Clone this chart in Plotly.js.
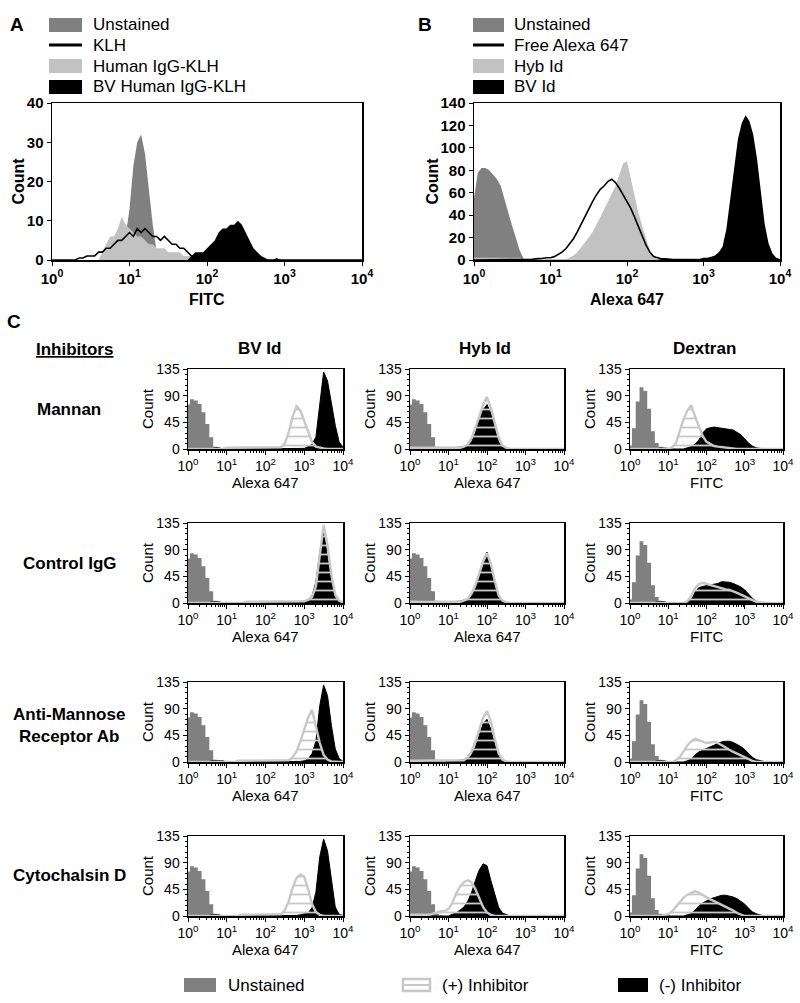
<!DOCTYPE html>
<html><head><meta charset="utf-8">
<script src="https://cdn.plot.ly/plotly-3.0.1.min.js"></script>
<style>html,body{margin:0;padding:0;background:#fff}#chart{width:800px;height:1003px}</style>
</head><body><div id="chart"></div>
<script>
// ---------- DATA ----------
// Panel A/B histogram bins: 0.05 decade steps from 10^0 to 10^4 (81 bins)
const A_UNSTAINED = [
0,0,0,0,0,0,0,0,0,0, 0,0,0,0,0,0,0,0,2,6, 13,24,30,32,27,18,9,2,0,0,
0,0,0,0,0,0,0,0,0,0, 0,0,0,0,0,0,0,0,0,0, 0,0,0,0,0,0,0,0,0,0,
0,0,0,0,0,0,0,0,0,0, 0,0,0,0,0,0,0,0,0,0, 0];
const A_KLH = [
0,0,0,0,0,0,0,0.5,0.5,1, 1,1,2,2,3,3,4,5,5,6, 7,6,8,7,8,7,6,6,5,6,
5,4,4,3,3,2,1,1,0.5,0, 0,0,0,0,0,0,0,0,0,0, 0,0,0,0,0,0,0,0,0,0,
0,0,0,0,0,0,0,0,0,0, 0,0,0,0,0,0,0,0,0,0, 0];
const A_HUMAN_IGG_KLH = [
0,0,0,0,0,0,0,0,0,0, 0,0,0,2,4,6,6,8,11,9, 8,7,6,6,5,4,4,3,3,3,
2,2,2,2,1,1,1,0,0,0, 0,0,0,0,0,0,0,0,0,0, 0,0,0,0,0,0,0,0,0,0,
0,0,0,0,0,0,0,0,0,0, 0,0,0,0,0,0,0,0,0,0, 0];
const A_BV_HUMAN_IGG_KLH = [
0,0,0,0,0,0,0,0,0,0, 0,0,0,0,0,0,0,0,0,0, 0,0,0,0,0,0,0,0,0,0,
0,0,0,0,0,0,1,2,2,2, 3,4,5,7,8,8,9,9,10,9, 7,5,3,2,1,0.5,0,0,0.5,0,
0,0,0,0,0,0,0,0,0,0, 0,0,0,0,0,0,0,0,0,0, 0];

const B_UNSTAINED = [
55,78,82,82,80,76,72,66,55,42, 30,20,8,1,0,0,0,0,0,0, 0,0,0,0,0,0,0,0,0,0,
0,0,0,0,0,0,0,0,0,0, 0,0,0,0,0,0,0,0,0,0, 0,0,0,0,0,0,0,0,0,0,
0,0,0,0,0,0,0,0,0,0, 0,0,0,0,0,0,0,0,0,0, 0];
const B_FREE_ALEXA = [
0,0,0,0,0,0,0,0,0,0, 0,0,0,0,0.5,0.5,1,1,1.5,2, 2,3,5,7,10,14,19,25,32,38,
45,52,58,63,66,70,72,69,64,58, 53,46,38,30,22,13,7,3,2,1, 1,0.5,0.5,0.5,0.5,0.5,0.5,0.5,0.5,0.5,
0.5,0,0,0,0,0,0,0,0,0, 0,0,0,0,0,0,0,0,0,0, 0];
const B_HYB_ID = [
2,2,2,2,2,2,2,2,2,2, 2,2,2,1,1,1,1,1,1,1, 1,1,1,1,1,2,4,7,11,15,
20,25,31,38,45,52,60,66,76,86, 88,72,56,42,30,18,8,3,1,0, 0,0,0,0,0,0,0,0,0,0,
0,0,0,0,0,0,0,0,0,0, 0,0,0,0,0,0,0,0,0,0, 0];
const B_BV_ID = [
0,0,0,0,0,0,0,0,0,0, 0,0,0,0,0,0,0,0,0,0, 0,0,0,0,0,0,0,0,0,0,
0,0,0,0,0,0,0,0,0,0, 0,0,0,0,0,0,0,0,0,1, 1,1,1,1,1,1,1,1,1,1,
2,2,3,4,7,12,28,55,85,108, 122,129,124,112,90,62,32,15,6,2, 1];

// Panel C histogram bins: 0.1 decade steps from 10^0 to 10^4 (41 bins)
const C_UNSTAINED_ALEXA = [75,84,82,76,62,42,20,4,1,0, 0,0,0,0,0,0,0,0,0,0, 0,0,0,0,0,0,0,0,0,0, 0,0,0,0,0,0,0,0,0,0, 0];
const C_UNSTAINED_FITC  = [6,35,80,104,98,68,30,10,4,2, 1,0,0,0,0,0,0,0,0,0, 0,0,0,0,0,0,0,0,0,0, 0,0,0,0,0,0,0,0,0,0, 0];

// Mannan
const MANNAN_BV_PLUS   = [0,0,0,0,0,0,0,0,0,0, 2,2,2,2,2,2,2,2,2,2, 2,2,2,2,3,10,28,55,72,65, 48,28,12,4,2,1,0,0,0,0, 0];
const MANNAN_BV_MINUS  = [0,0,0,0,0,0,0,2,2,0, 0,0,0,0,0,0,0,0,0,0, 0,0,0,0,0,1,1,1,1,1, 1,4,8,20,75,130,115,80,40,12, 3];
const MANNAN_HYB_PLUS  = [2,2,2,2,2,2,2,2,2,2, 2,2,2,2,4,8,18,35,55,75, 88,70,45,20,6,2,0,0,0,0, 0,0,0,0,0,0,0,0,0,0, 0];
const MANNAN_HYB_MINUS = [0,0,0,0,0,0,0,0,0,0, 2,2,3,3,4,6,12,28,48,66, 75,60,35,12,3,1,0,0,0,0, 0,0,0,0,0,0,0,0,0,0, 0];
const MANNAN_DEX_PLUS  = [0,0,0,0,0,0,0,0,0,0, 0,3,10,30,50,65,74,55,38,22, 12,8,5,4,3,2,1,0,0,0, 0,0,0,0,0,0,0,0,0,0, 0];
const MANNAN_DEX_MINUS = [0,0,0,0,0,0,0,0,2,2, 1,0,0,0,0,2,4,8,15,27, 34,36,37,36,35,35,34,32,28,24, 17,10,5,2,1,0,0,0,0,0, 0];
// Control IgG
const CTRL_BV_PLUS   = [0,0,0,0,0,0,0,0,0,0, 0,0,0,0,0,2,2,2,2,2, 2,2,2,2,2,2,2,2,2,2, 3,5,10,28,78,132,98,48,14,4, 1];
const CTRL_BV_MINUS  = [0,0,0,0,0,0,2,2,2,0, 0,0,0,0,0,0,0,1,1,1, 1,1,1,1,1,1,1,1,1,2, 3,6,12,35,85,120,80,35,9,2, 0];
const CTRL_HYB_PLUS  = [2,2,2,2,2,2,2,2,2,2, 2,2,2,2,4,7,16,30,50,70, 84,66,38,13,4,1,0,0,0,0, 0,0,0,0,0,0,0,0,0,0, 0];
const CTRL_HYB_MINUS = [0,0,3,3,3,3,3,0,0,0, 2,2,3,3,5,6,15,30,50,72, 86,62,32,10,3,1,0,0,0,0, 0,0,0,0,0,0,0,0,0,0, 0];
const CTRL_DEX_PLUS  = [0,0,0,0,0,0,0,0,0,0, 0,0,0,0,0,3,12,25,32,34, 32,30,28,27,25,23,22,20,17,14, 11,7,4,2,1,0,0,0,0,0, 0];
const CTRL_DEX_MINUS = [0,0,0,0,0,0,0,2,2,2, 0,0,0,0,0,2,5,18,26,28, 29,30,31,33,36,36,35,33,30,27, 22,15,8,3,1,0,0,0,0,0, 0];
// Anti-Mannose Receptor Ab
const AMR_BV_PLUS   = [0,0,0,0,0,0,0,0,0,0, 0,0,0,2,2,2,2,2,2,2, 2,2,2,2,2,2,3,8,18,35, 55,75,88,62,32,12,4,1,0,0, 0];
const AMR_BV_MINUS  = [0,0,0,0,0,0,2,2,2,2, 0,0,0,0,0,0,0,0,0,0, 0,0,0,0,0,0,0,0,1,1, 2,5,14,35,95,130,112,62,22,6, 1];
const AMR_HYB_PLUS  = [2,2,2,2,2,2,2,2,2,2, 2,2,2,2,3,8,18,35,55,75, 86,68,40,15,4,1,0,0,0,0, 0,0,0,0,0,0,0,0,0,0, 0];
const AMR_HYB_MINUS = [0,0,0,0,0,0,0,0,0,0, 2,2,2,3,4,5,12,25,45,65, 72,55,30,10,3,1,0,0,0,0, 0,0,0,0,0,0,0,0,0,0, 0];
const AMR_DEX_PLUS  = [0,0,0,0,0,0,0,0,0,0, 0,0,3,8,18,28,35,39,37,34, 32,33,34,32,28,24,20,17,14,11, 8,4,2,0,0,0,0,0,0,0, 0];
const AMR_DEX_MINUS = [0,0,0,0,0,0,0,2,2,2, 0,0,0,0,0,2,5,12,17,20, 23,26,29,31,34,35,35,33,30,26, 21,14,8,4,2,1,0,0,0,0, 0];
// Cytochalsin D
const CYTO_BV_PLUS   = [0,0,0,0,0,0,0,0,0,0, 0,0,0,0,2,2,2,2,2,2, 2,2,2,2,3,10,25,48,64,70, 66,45,20,7,2,0,0,0,0,0, 0];
const CYTO_BV_MINUS  = [0,0,0,0,0,0,2,2,2,0, 0,0,0,0,0,0,0,0,0,0, 0,0,0,0,0,0,0,0,1,2, 3,5,14,40,100,130,110,58,15,3, 1];
const CYTO_HYB_PLUS  = [2,2,2,2,2,2,4,6,8,8, 12,22,38,50,57,60,57,45,30,15, 6,2,0,0,0,0,0,0,0,0, 0,0,0,0,0,0,0,0,0,0, 0];
const CYTO_HYB_MINUS = [0,0,0,0,0,0,0,0,0,0, 0,3,5,10,15,25,40,60,78,88, 85,60,35,15,5,2,0,0,0,0, 0,0,0,0,0,0,0,0,0,0, 0];
const CYTO_DEX_PLUS  = [0,0,0,0,0,0,0,0,0,2, 3,8,16,25,31,36,39,42,39,35, 31,28,25,22,19,16,13,9,5,2, 0,0,0,0,0,0,0,0,0,0, 0];
const CYTO_DEX_MINUS = [0,0,0,0,0,0,0,0,0,0, 0,0,0,0,0,2,4,10,17,22, 26,29,31,33,35,35,34,32,29,25, 20,13,7,4,2,0,0,0,0,0, 0];

const ROW_LABELS = ['Mannan', 'Control IgG', 'Anti-Mannose<br>Receptor Ab', 'Cytochalsin D'];
const COL_LABELS = ['BV Id', 'Hyb Id', 'Dextran'];
const COL_XTITLES = ['Alexa 647', 'Alexa 647', 'FITC'];
const LOG_TICKVALS = [1, 10, 100, 1000, 10000];
const LOG_TICKTEXT = ['10<sup>0</sup>', '10<sup>1</sup>', '10<sup>2</sup>', '10<sup>3</sup>', '10<sup>4</sup>'];
const A_LEGEND = ['Unstained', 'KLH', 'Human IgG-KLH', 'BV Human IgG-KLH'];
const B_LEGEND = ['Unstained', 'Free Alexa 647', 'Hyb Id', 'BV Id'];
const C_LEGEND = ['Unstained', '(+) Inhibitor', '(-) Inhibitor'];

const C_PLUS = [
  [MANNAN_BV_PLUS, MANNAN_HYB_PLUS, MANNAN_DEX_PLUS],
  [CTRL_BV_PLUS, CTRL_HYB_PLUS, CTRL_DEX_PLUS],
  [AMR_BV_PLUS, AMR_HYB_PLUS, AMR_DEX_PLUS],
  [CYTO_BV_PLUS, CYTO_HYB_PLUS, CYTO_DEX_PLUS]];
const C_MINUS = [
  [MANNAN_BV_MINUS, MANNAN_HYB_MINUS, MANNAN_DEX_MINUS],
  [CTRL_BV_MINUS, CTRL_HYB_MINUS, CTRL_DEX_MINUS],
  [AMR_BV_MINUS, AMR_HYB_MINUS, AMR_DEX_MINUS],
  [CYTO_BV_MINUS, CYTO_HYB_MINUS, CYTO_DEX_MINUS]];
const C_UNSTAINED = [C_UNSTAINED_ALEXA, C_UNSTAINED_ALEXA, C_UNSTAINED_FITC];

// ---------- LAYOUT / STYLE ----------
const W = 800, H = 1003;
const FONT = 'Liberation Sans, Arial, Helvetica, sans-serif';
const GRAY = '#808080', LIGHT = '#c2c2c2', BLACK = '#000000', PLUSC = '#c8c8c8';
const px = x => x / W, py = y => 1 - y / H;

function binCenters(n, step) { const xs = []; for (let i = 0; i < n; i++) xs.push(Math.pow(10, i * step)); return xs; }
const XB = binCenters(81, 0.05);
const XC = binCenters(41, 0.1);

const minorLog = [];
for (let d = 0; d < 4; d++) for (let m = 2; m <= 9; m++) minorLog.push(m * Math.pow(10, d));

const traces = [];
const layout = {
  width: W, height: H, margin: {l: 0, r: 0, t: 0, b: 0},
  paper_bgcolor: '#fff', plot_bgcolor: '#fff', showlegend: false,
  font: {family: FONT, color: '#000'},
  annotations: [], shapes: []
};

function axId(n) { return n === 1 ? '' : String(n); }
function addAxes(n, xr, yr, big, yrange, ytick) {
  const k = axId(n);
  const tf = big ? {family: FONT, size: 15, color: '#000', weight: 'bold'} : {family: FONT, size: 14, color: '#000'};
  layout['xaxis' + k] = {
    domain: [px(xr[0]), px(xr[1])], anchor: 'y' + k, type: 'log', range: [0, 4],
    tickmode: 'array', tickvals: LOG_TICKVALS, ticktext: LOG_TICKTEXT,
    showline: true, mirror: true, linecolor: '#000', linewidth: 1.5,
    ticks: 'outside', ticklen: 4, tickcolor: '#000', showgrid: false, zeroline: false,
    tickfont: tf, fixedrange: true,
    minor: big ? undefined : {tickmode: 'array', tickvals: minorLog, ticks: 'outside', ticklen: 2, tickcolor: '#000', showgrid: false}
  };
  layout['yaxis' + k] = {
    domain: [py(yr[1]), py(yr[0])], anchor: 'x' + k, range: yrange,
    tickmode: 'linear', tick0: 0, dtick: ytick,
    showline: true, mirror: true, linecolor: '#000', linewidth: 1.5,
    ticks: 'outside', ticklen: 4, tickcolor: '#000', showgrid: false, zeroline: false,
    tickfont: tf, fixedrange: true,
    minor: big ? undefined : {dtick: 9, ticks: 'outside', ticklen: 2, tickcolor: '#000', showgrid: false}
  };
}
function filled(x, y, n, color, shape, lineColor, lw) {
  const k = axId(n);
  return {type: 'scatter', mode: 'lines', x: x, y: y, xaxis: 'x' + k, yaxis: 'y' + k,
    line: {shape: shape, color: lineColor || color, width: lw || 0},
    fill: 'tozeroy', fillcolor: color, hoverinfo: 'skip', showlegend: false};
}
function outline(x, y, n, color, lw) {
  const k = axId(n);
  return {type: 'scatter', mode: 'lines', x: x, y: y, xaxis: 'x' + k, yaxis: 'y' + k,
    line: {shape: 'linear', color: color, width: lw}, hoverinfo: 'skip', showlegend: false};
}
function striped(x, y, n) {
  const k = axId(n);
  return {type: 'scatter', mode: 'lines', x: x, y: y, xaxis: 'x' + k, yaxis: 'y' + k,
    line: {shape: 'linear', color: PLUSC, width: 2.4},
    fill: 'tozeroy', fillcolor: 'rgba(0,0,0,0)',
    fillpattern: {shape: '-', fgcolor: PLUSC, bgcolor: 'rgba(0,0,0,0)', size: 9, solidity: 0.2},
    hoverinfo: 'skip', showlegend: false};
}
function txt(text, x, y, o) {
  o = o || {};
  layout.annotations.push({text: text, xref: 'paper', yref: 'paper', x: px(x), y: py(y), showarrow: false,
    xanchor: o.xanchor || 'center', yanchor: 'middle', textangle: o.angle || 0,
    font: {family: FONT, size: o.size || 17, color: '#000', weight: o.bold ? 'bold' : 'normal'}});
}
function rect(x0, y0, x1, y1, fill, lineColor, lw) {
  layout.shapes.push({type: 'rect', xref: 'paper', yref: 'paper', x0: px(x0), x1: px(x1), y0: py(y1), y1: py(y0),
    fillcolor: fill, line: {color: lineColor || fill, width: lw || 0}});
}
function hline(x0, x1, y, color, lw) {
  layout.shapes.push({type: 'line', xref: 'paper', yref: 'paper', x0: px(x0), x1: px(x1), y0: py(y), y1: py(y),
    line: {color: color, width: lw}});
}

// Panel A
const AX = [52, 362], AY = [103, 260];
addAxes(1, AX, AY, true, [0, 40], 10);
traces.push(filled(XB, A_UNSTAINED, 1, GRAY, 'linear'));
traces.push(filled(XB, A_HUMAN_IGG_KLH, 1, LIGHT, 'linear'));
traces.push(filled(XB, A_BV_HUMAN_IGG_KLH, 1, BLACK, 'linear'));
traces.push(outline(XB, A_KLH, 1, BLACK, 1.6));
// Panel B
const BX = [474, 780], BY = [103, 260];
addAxes(2, BX, BY, true, [0, 140], 20);
traces.push(filled(XB, B_UNSTAINED, 2, GRAY, 'linear'));
traces.push(filled(XB, B_HYB_ID, 2, LIGHT, 'linear'));
traces.push(filled(XB, B_BV_ID, 2, BLACK, 'linear'));
traces.push(outline(XB, B_FREE_ALEXA, 2, BLACK, 1.6));

txt('A', 17, 25, {bold: true, size: 19});
txt('B', 425, 25, {bold: true, size: 19});
txt('Count', 18, (AY[0] + AY[1]) / 2, {bold: true, size: 16, angle: -90});
txt('FITC', (AX[0] + AX[1]) / 2, 299, {bold: true, size: 16});
txt('Count', 432, (BY[0] + BY[1]) / 2, {bold: true, size: 16, angle: -90});
txt('Alexa 647', (BX[0] + BX[1]) / 2, 299, {bold: true, size: 16});

const LEG_Y = [25, 45, 66, 87];
[[49, 82, 91, A_LEGEND], [473, 504, 512, B_LEGEND]].forEach(([s0, s1, tx, labels]) => {
  rect(s0, LEG_Y[0] - 7, s1, LEG_Y[0] + 7, GRAY);
  hline(s0, s1, LEG_Y[1], BLACK, 3);
  rect(s0, LEG_Y[2] - 7, s1, LEG_Y[2] + 7, LIGHT);
  rect(s0, LEG_Y[3] - 7, s1, LEG_Y[3] + 7, BLACK);
  labels.forEach((l, i) => txt(l, tx, LEG_Y[i], {xanchor: 'left', size: 17}));
});

// Panel C
const COLS_X = [[188, 343], [410, 564], [630, 783]];
const ROWS_Y = [[369, 449], [523, 603], [682, 762], [836, 916]];
const HEAD_X = [259, 485, 704];
txt('C', 14, 321, {bold: true, size: 19});
txt('<u>Inhibitors</u>', 74, 349, {bold: true, size: 17});
COL_LABELS.forEach((c, j) => txt(c, HEAD_X[j], 348, {bold: true, size: 17}));
const ROW_LABEL_Y = [409, 563, 725, 875];
ROW_LABELS.forEach((r, i) => txt(r, 69, ROW_LABEL_Y[i], {bold: true, size: 17}));

let n = 3;
for (let i = 0; i < 4; i++) {
  for (let j = 0; j < 3; j++) {
    addAxes(n, COLS_X[j], ROWS_Y[i], false, [0, 135], 45);
    traces.push(filled(XC, C_UNSTAINED[j], n, GRAY, 'hvh'));
    traces.push(filled(XC, C_MINUS[i][j], n, BLACK, 'linear', BLACK, 1));
    traces.push(striped(XC, C_PLUS[i][j], n));
    txt('Count', COLS_X[j][0] - 41, (ROWS_Y[i][0] + ROWS_Y[i][1]) / 2, {size: 15, angle: -90});
    txt(COL_XTITLES[j], (COLS_X[j][0] + COLS_X[j][1]) / 2, ROWS_Y[i][1] + 33, {size: 15});
    n++;
  }
}

// Bottom legend
const LY = 985;
rect(184, LY - 7, 216, LY + 7, GRAY);
txt(C_LEGEND[0], 226, LY, {xanchor: 'left', size: 17});
rect(403, LY - 6, 430, LY + 6, '#ffffff', PLUSC, 2.5);
hline(403, 430, LY, PLUSC, 2);
txt(C_LEGEND[1], 440, LY, {xanchor: 'left', size: 17});
rect(618, LY - 7, 648, LY + 7, BLACK);
txt(C_LEGEND[2], 657, LY, {xanchor: 'left', size: 17});

Plotly.newPlot('chart', traces, layout, {staticPlot: true, displayModeBar: false});
</script></body></html>
